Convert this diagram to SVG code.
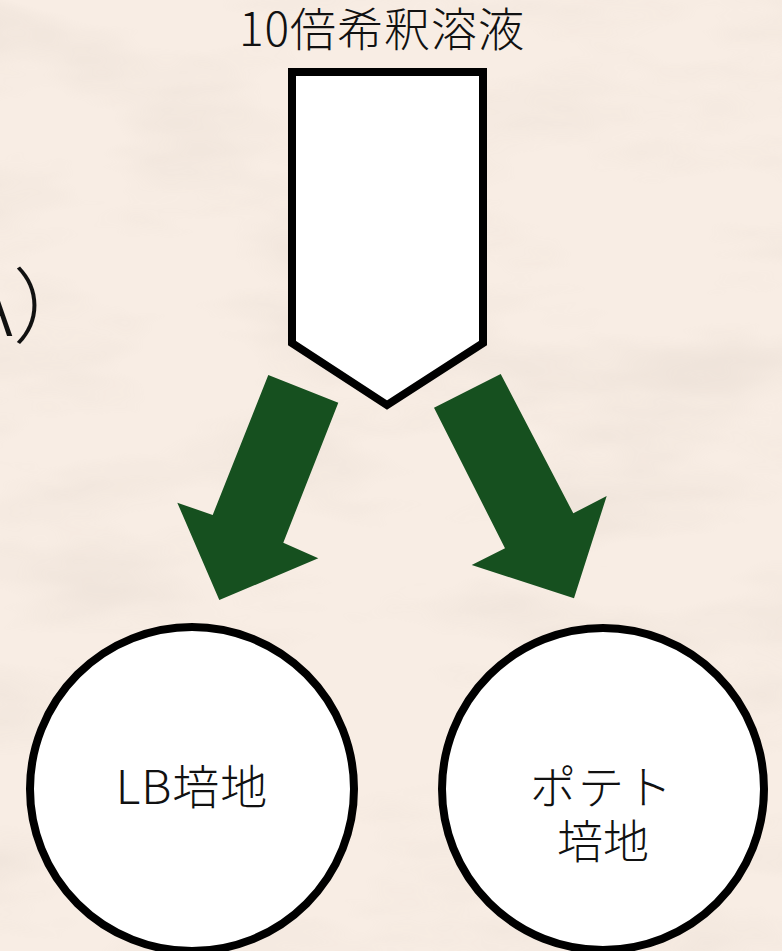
<svg xmlns="http://www.w3.org/2000/svg" width="782" height="951" viewBox="0 0 782 951">
  <defs>
    <style>
      .t { font-family: "Noto Sans CJK JP", "Noto Sans", sans-serif; font-weight: 300; fill: #111; }
      .node { fill: #ffffff; stroke: #000000; stroke-width: 8; }
      .arrow { fill: #16501f; stroke: none; }
    </style>
    <filter id="marble" x="0" y="0" width="100%" height="100%">
      <feTurbulence type="fractalNoise" baseFrequency="0.004 0.012" numOctaves="4" seed="7" result="n"/>
      <feColorMatrix in="n" type="matrix" values="0 0 0 0 0.55  0 0 0 0 0.48  0 0 0 0 0.42  0 0 0 -2.2 1.25" result="c"/>
      <feComposite in="c" in2="SourceGraphic" operator="in"/>
    </filter>
  </defs>
  <rect id="background" x="0" y="0" width="782" height="951" fill="#f8ede4"/>
  <rect x="0" y="0" width="782" height="951" fill="#f8ede4" filter="url(#marble)" opacity="0.18"/>

  <g id="label-A">
    <text class="t" x="95" y="336" font-size="82" text-anchor="end">A）</text>
  </g>

  <g id="title">
    <text class="t" x="382" y="46" font-size="46" text-anchor="middle" letter-spacing="1">10倍希釈溶液</text>
  </g>

  <g id="source">
    <polygon class="node" points="292,72 483,72 483,343 387,405 292,343"/>
  </g>

  <g id="connectors">
    <polygon class="arrow" points="268.3,375 338.3,402.7 283.3,542.7 318.3,558.3 219.3,600 177.3,502.7 212.7,515"/>
    <polygon class="arrow" points="434,407.7 500.7,374 573.3,513.3 606.7,496 574,598.3 471.7,565 505,548.3"/>
  </g>

  <g id="lb">
    <circle class="node" cx="192" cy="789" r="162"/>
    <text class="t" x="192" y="804" font-size="47" text-anchor="middle" letter-spacing="1">LB培地</text>
  </g>

  <g id="potato">
    <circle class="node" cx="603" cy="789" r="161"/>
    <text class="t" x="602" y="804" font-size="46" text-anchor="middle" letter-spacing="2">ポテト</text>
    <text class="t" x="603" y="858" font-size="46" text-anchor="middle">培地</text>
  </g>
</svg>
